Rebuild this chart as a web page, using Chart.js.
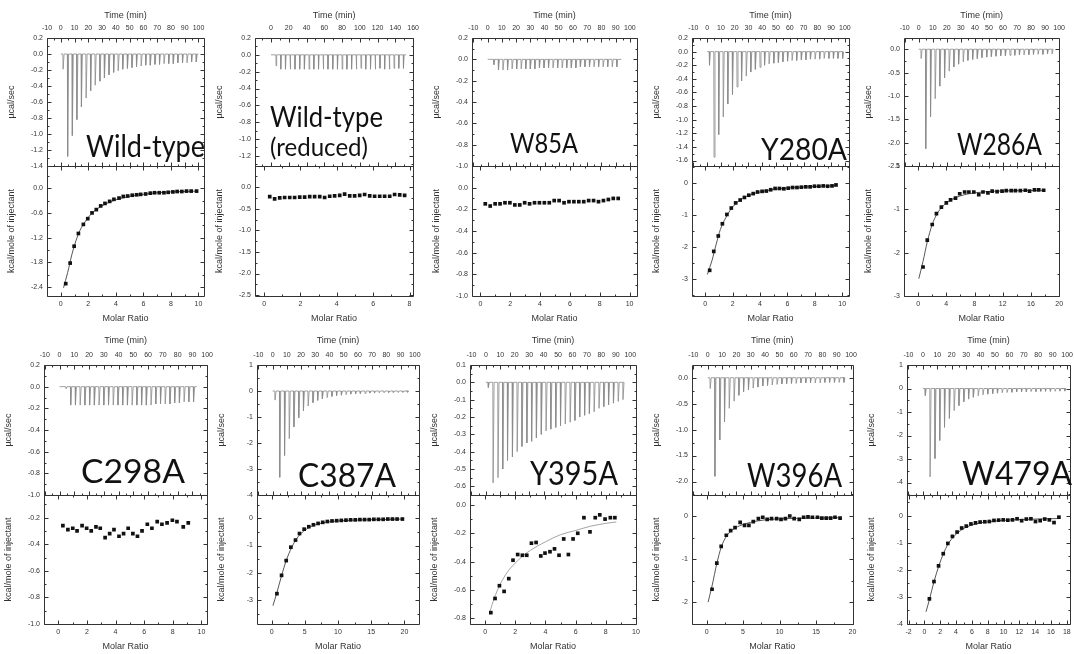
<!DOCTYPE html>
<html>
<head>
<meta charset="utf-8">
<script src="https://cdn.jsdelivr.net/npm/chart.js@4.4.1/dist/chart.umd.min.js"></script>
<style>
  body { margin: 0; background: #fff; }
  #fig { position: relative; width: 1074px; height: 654px; overflow: hidden; background: #fff; }
  #fig canvas { position: absolute; }
  .tag { position: absolute; color: #111; white-space: nowrap; transform-origin: 0 0; }
</style>
</head>
<body>
<div id="fig"></div>
<script>
// injection times (min)
const injA = [1.5, 4.8, 8.2, 11.5, 14.8, 18.2, 21.5, 24.8, 28.2, 31.5, 34.8, 38.2, 41.5, 44.8, 48.2, 51.5, 54.8, 58.2, 61.5, 64.8, 68.2, 71.5, 74.8, 78.2, 81.5, 84.8, 88.2, 91.5, 94.8, 98.2];
const injB = [4.2, 7.4, 10.6, 13.8, 17.0, 20.2, 23.4, 26.6, 29.8, 33.0, 36.2, 39.4, 42.6, 45.8, 49.0, 52.2, 55.4, 58.6, 61.8, 65.0, 68.2, 71.4, 74.6, 77.8, 81.0, 84.2, 87.4, 90.6];
const injSlow = [5.5, 10.8, 16.1, 21.4, 26.8, 32.1, 37.4, 42.7, 48.0, 53.3, 58.6, 63.9, 69.3, 74.6, 79.9, 85.2, 90.5, 95.8, 101.1, 106.4, 111.8, 117.1, 122.4, 127.7, 133.0, 138.3, 143.6, 148.9];

// raw peaks (ucal/sec)
const wtPeaks = [-0.19, -1.28, -1.02, -0.82, -0.66, -0.55, -0.46, -0.39, -0.34, -0.30, -0.26, -0.23, -0.21, -0.19, -0.18, -0.17, -0.16, -0.15, -0.14, -0.14, -0.13, -0.13, -0.12, -0.12, -0.12, -0.11, -0.11, -0.11, -0.10, -0.10];
const wtRedPeaks = [-0.13, -0.17, -0.17, -0.17, -0.17, -0.17, -0.17, -0.17, -0.17, -0.17, -0.17, -0.17, -0.17, -0.17, -0.17, -0.17, -0.17, -0.17, -0.16, -0.17, -0.17, -0.17, -0.16, -0.17, -0.17, -0.16, -0.16, -0.16];
const w85Peaks = [-0.05, -0.10, -0.10, -0.10, -0.09, -0.09, -0.09, -0.09, -0.09, -0.09, -0.08, -0.08, -0.08, -0.08, -0.08, -0.08, -0.08, -0.08, -0.08, -0.07, -0.07, -0.07, -0.07, -0.07, -0.07, -0.07, -0.07, -0.07];
const y280Peaks = [-0.20, -1.55, -1.22, -0.96, -0.77, -0.63, -0.52, -0.43, -0.36, -0.30, -0.26, -0.23, -0.20, -0.18, -0.17, -0.16, -0.15, -0.14, -0.13, -0.13, -0.12, -0.12, -0.11, -0.11, -0.11, -0.10, -0.10, -0.10, -0.10, -0.10];
const w286Peaks = [-0.20, -2.13, -1.45, -1.06, -0.79, -0.61, -0.47, -0.38, -0.32, -0.27, -0.24, -0.22, -0.20, -0.18, -0.17, -0.16, -0.15, -0.14, -0.14, -0.13, -0.13, -0.12, -0.12, -0.12, -0.11, -0.11, -0.11, -0.10, -0.10];
const c298Peaks = [-0.02, -0.17, -0.17, -0.17, -0.17, -0.17, -0.17, -0.17, -0.17, -0.17, -0.17, -0.17, -0.17, -0.17, -0.17, -0.17, -0.17, -0.17, -0.17, -0.16, -0.16, -0.16, -0.16, -0.15, -0.15, -0.14, -0.14, -0.14];
const c387Peaks = [-0.35, -3.32, -2.48, -1.83, -1.38, -1.03, -0.76, -0.58, -0.45, -0.36, -0.30, -0.25, -0.21, -0.18, -0.16, -0.14, -0.12, -0.11, -0.10, -0.09, -0.08, -0.08, -0.07, -0.07, -0.06, -0.06, -0.06, -0.05, -0.05];
const y395Peaks = [-0.03, -0.58, -0.55, -0.50, -0.45, -0.43, -0.40, -0.37, -0.35, -0.34, -0.32, -0.30, -0.28, -0.27, -0.26, -0.25, -0.24, -0.23, -0.22, -0.20, -0.19, -0.18, -0.17, -0.15, -0.14, -0.13, -0.12, -0.11, -0.10];
const w396Peaks = [-0.21, -1.90, -1.20, -0.85, -0.59, -0.45, -0.34, -0.27, -0.23, -0.20, -0.18, -0.16, -0.15, -0.14, -0.13, -0.12, -0.12, -0.11, -0.11, -0.10, -0.10, -0.10, -0.10, -0.10, -0.09, -0.09, -0.09, -0.09, -0.09];
const w479Peaks = [-0.30, -3.76, -2.98, -2.21, -1.65, -1.27, -0.94, -0.73, -0.56, -0.45, -0.37, -0.31, -0.27, -0.24, -0.22, -0.20, -0.18, -0.17, -0.16, -0.15, -0.14, -0.14, -0.13, -0.13, -0.12, -0.12, -0.12, -0.12, -0.11, -0.11];

// integrated heats (kcal/mole of injectant) vs molar ratio
const wtRatio = [0.36, 0.68, 0.97, 1.28, 1.64, 1.96, 2.27, 2.58, 2.9, 3.21, 3.55, 3.86, 4.23, 4.54, 4.86, 5.19, 5.51, 5.8, 6.16, 6.5, 6.81, 7.15, 7.49, 7.8, 8.14, 8.45, 8.79, 9.13, 9.47, 9.86];
const wtHeat = [-2.32, -1.82, -1.41, -1.1, -0.88, -0.74, -0.6, -0.52, -0.43, -0.37, -0.32, -0.27, -0.24, -0.2, -0.19, -0.17, -0.16, -0.15, -0.14, -0.12, -0.11, -0.11, -0.11, -0.1, -0.09, -0.08, -0.08, -0.07, -0.07, -0.07];
const wtFitX = [0.2, 0.5, 0.8, 1.1, 1.4, 1.8, 2.2, 2.7, 3.2, 4, 5, 6, 7, 8, 9.9];
const wtFitY = [-2.42, -2.05, -1.62, -1.28, -1.02, -0.8, -0.63, -0.49, -0.39, -0.28, -0.2, -0.15, -0.11, -0.09, -0.07];

const wtRedRatio = [0.31, 0.58, 0.86, 1.13, 1.41, 1.68, 1.96, 2.23, 2.51, 2.78, 3.06, 3.33, 3.61, 3.88, 4.16, 4.43, 4.71, 4.98, 5.26, 5.53, 5.81, 6.08, 6.36, 6.63, 6.91, 7.18, 7.46, 7.73];
const wtRedHeat = [-0.22, -0.27, -0.25, -0.24, -0.24, -0.24, -0.23, -0.23, -0.22, -0.22, -0.22, -0.24, -0.21, -0.20, -0.19, -0.16, -0.20, -0.20, -0.19, -0.17, -0.20, -0.21, -0.21, -0.21, -0.21, -0.17, -0.18, -0.19];

const w85Ratio = [0.33, 0.66, 0.99, 1.32, 1.65, 1.98, 2.31, 2.64, 2.97, 3.3, 3.63, 3.96, 4.29, 4.62, 4.95, 5.28, 5.61, 5.94, 6.27, 6.6, 6.93, 7.26, 7.59, 7.92, 8.25, 8.58, 8.91, 9.24];
const w85Heat = [-0.15, -0.17, -0.15, -0.15, -0.14, -0.14, -0.16, -0.16, -0.14, -0.15, -0.14, -0.14, -0.14, -0.14, -0.12, -0.12, -0.14, -0.13, -0.13, -0.13, -0.13, -0.12, -0.12, -0.13, -0.12, -0.11, -0.10, -0.10];

const y280Ratio = [0.32, 0.62, 0.95, 1.25, 1.58, 1.9, 2.22, 2.55, 2.86, 3.18, 3.5, 3.82, 4.15, 4.46, 4.78, 5.1, 5.42, 5.74, 6.06, 6.38, 6.7, 7.02, 7.34, 7.66, 7.98, 8.3, 8.62, 8.94, 9.26, 9.55];
const y280Heat = [-2.72, -2.13, -1.65, -1.27, -0.98, -0.78, -0.62, -0.53, -0.45, -0.38, -0.33, -0.28, -0.26, -0.25, -0.21, -0.17, -0.17, -0.18, -0.16, -0.14, -0.14, -0.13, -0.12, -0.12, -0.10, -0.10, -0.09, -0.10, -0.09, -0.06];
const y280FitX = [0.15, 0.5, 0.8, 1.1, 1.5, 1.9, 2.4, 3, 3.8, 5, 6.5, 8, 9.6];
const y280FitY = [-2.85, -2.4, -1.9, -1.45, -1.08, -0.8, -0.58, -0.42, -0.3, -0.2, -0.14, -0.11, -0.08];

const w286Ratio = [0.7, 1.3, 2.0, 2.6, 3.3, 4.0, 4.6, 5.3, 5.9, 6.6, 7.2, 7.9, 8.6, 9.2, 9.9, 10.5, 11.2, 11.9, 12.5, 13.2, 13.8, 14.5, 15.2, 15.8, 16.5, 17.1, 17.8];
const w286Heat = [-1.83, -1.21, -0.85, -0.6, -0.45, -0.35, -0.28, -0.24, -0.14, -0.1, -0.1, -0.1, -0.16, -0.1, -0.12, -0.08, -0.09, -0.08, -0.07, -0.07, -0.07, -0.07, -0.06, -0.08, -0.05, -0.05, -0.06];
const w286FitX = [0.1, 0.7, 1.3, 2, 2.7, 3.5, 4.5, 6, 8, 11, 14, 17.8];
const w286FitY = [-2.1, -1.7, -1.25, -0.85, -0.6, -0.43, -0.3, -0.19, -0.12, -0.08, -0.07, -0.06];

const c298Ratio = [0.32, 0.67, 1.01, 1.31, 1.66, 1.98, 2.3, 2.63, 2.93, 3.27, 3.59, 3.89, 4.24, 4.56, 4.88, 5.21, 5.53, 5.85, 6.22, 6.54, 6.91, 7.24, 7.6, 7.97, 8.29, 8.73, 9.08];
const c298Heat = [-0.26, -0.29, -0.28, -0.30, -0.26, -0.28, -0.30, -0.27, -0.28, -0.35, -0.32, -0.29, -0.34, -0.32, -0.28, -0.32, -0.34, -0.30, -0.25, -0.28, -0.23, -0.25, -0.24, -0.22, -0.23, -0.27, -0.24];

const c387Ratio = [0.8, 1.5, 2.2, 2.9, 3.6, 4.2, 4.9, 5.6, 6.3, 7.0, 7.7, 8.4, 9.1, 9.8, 10.5, 11.2, 11.9, 12.6, 13.3, 14.0, 14.7, 15.4, 16.1, 16.8, 17.5, 18.2, 18.9, 19.7];
const c387Heat = [-2.76, -2.09, -1.55, -1.06, -0.8, -0.56, -0.4, -0.31, -0.24, -0.19, -0.15, -0.12, -0.1, -0.09, -0.08, -0.07, -0.06, -0.06, -0.05, -0.05, -0.05, -0.04, -0.04, -0.04, -0.03, -0.03, -0.03, -0.03];
const c387FitX = [0.2, 0.8, 1.5, 2.2, 3, 3.8, 4.8, 6, 7.5, 10, 14, 19.7];
const c387FitY = [-3.2, -2.72, -2.1, -1.55, -1.08, -0.74, -0.48, -0.3, -0.18, -0.1, -0.06, -0.03];

const y395Ratio = [0.38, 0.66, 0.95, 1.26, 1.57, 1.85, 2.16, 2.47, 2.76, 3.07, 3.38, 3.69, 3.97, 4.3, 4.6, 4.9, 5.21, 5.52, 5.83, 6.14, 6.55, 6.95, 7.3, 7.6, 7.95, 8.3, 8.6];
const y395Heat = [-0.76, -0.66, -0.57, -0.61, -0.52, -0.39, -0.35, -0.355, -0.355, -0.27, -0.265, -0.36, -0.34, -0.33, -0.31, -0.355, -0.24, -0.35, -0.24, -0.2, -0.09, -0.19, -0.09, -0.07, -0.1, -0.09, -0.09];
const y395FitX = [0.3, 0.6, 1, 1.5, 2, 2.5, 3, 4, 5, 6, 7, 8, 8.7];
const y395FitY = [-0.76, -0.66, -0.56, -0.47, -0.41, -0.36, -0.32, -0.26, -0.21, -0.18, -0.15, -0.13, -0.12];

const w396Ratio = [0.75, 1.4, 2.0, 2.7, 3.3, 3.9, 4.6, 5.2, 5.8, 6.4, 7.1, 7.7, 8.3, 8.9, 9.6, 10.2, 10.8, 11.4, 12.0, 12.7, 13.3, 13.9, 14.5, 15.2, 15.8, 16.4, 17.0, 17.6, 18.3];
const w396Heat = [-1.7, -1.09, -0.7, -0.44, -0.33, -0.26, -0.14, -0.21, -0.21, -0.12, -0.05, -0.02, -0.07, -0.05, -0.05, -0.07, -0.05, 0.01, -0.05, -0.07, -0.02, -0.01, -0.02, -0.02, -0.04, -0.04, -0.04, -0.02, -0.04];
const w396FitX = [0.2, 0.75, 1.4, 2, 2.7, 3.5, 4.5, 6, 8, 11, 14, 18.3];
const w396FitY = [-2.0, -1.62, -1.1, -0.72, -0.47, -0.32, -0.22, -0.14, -0.08, -0.05, -0.04, -0.03];

const w479Ratio = [0.63, 1.21, 1.79, 2.38, 2.96, 3.54, 4.13, 4.71, 5.29, 5.88, 6.46, 7.04, 7.63, 8.21, 8.79, 9.38, 9.96, 10.54, 11.13, 11.71, 12.29, 12.88, 13.46, 14.04, 14.63, 15.21, 15.79, 16.38, 17.0];
const w479Heat = [-3.07, -2.43, -1.85, -1.4, -1.02, -0.76, -0.6, -0.45, -0.38, -0.3, -0.26, -0.23, -0.22, -0.21, -0.17, -0.16, -0.15, -0.16, -0.15, -0.11, -0.18, -0.12, -0.11, -0.21, -0.18, -0.12, -0.15, -0.25, -0.05];
const w479FitX = [0.2, 0.63, 1.2, 1.8, 2.4, 3, 3.8, 4.8, 6, 8, 11, 14, 17];
const w479FitY = [-3.55, -3.1, -2.45, -1.87, -1.4, -1.04, -0.74, -0.5, -0.34, -0.22, -0.15, -0.12, -0.1];

// big sample labels: text, left, right, baseline, font size
const tags = [
  ['Wild-type', 86, 205, 157, 30],
  ['Wild-type', 270, 383, 127, 29],
  ['(reduced)', 270, 368, 156, 25],
  ['W85A', 510, 578, 153, 26],
  ['Y280A', 761, 847, 160, 31],
  ['W286A', 957, 1042, 155, 31],
  ['C298A', 81, 185, 483, 32],
  ['C387A', 298, 396, 487, 32],
  ['Y395A', 530, 618, 485, 32],
  ['W396A', 747, 842, 487, 32],
  ['W479A', 962, 1072, 485, 32]
];

// panel layout: box = [left, top, right, middle, bottom] in page px
const panels = [
  {box: [47, 38, 204, 166, 296], time: [-10, 104, 10], topY: [-1.4, 0.2, 0.2, 1], ratio: [-1, 10.4, 2], botY: [-2.62, 0.54, 0.6, 1],
   inj: injA, peaks: wtPeaks, runEnd: 100, mr: wtRatio, heat: wtHeat, fitX: wtFitX, fitY: wtFitY},
  {box: [255, 38, 415, 166, 296], time: [-18, 160, 20], topY: [-1.32, 0.2, 0.2, 1], ratio: [-0.5, 8.2, 2], botY: [-2.52, 0.49, 0.5, 1],
   inj: injSlow, peaks: wtRedPeaks, runEnd: 152, mr: wtRedRatio, heat: wtRedHeat},
  {box: [472, 38, 637, 166, 296], time: [-11, 105, 10], topY: [-1.0, 0.2, 0.2, 1], ratio: [-0.56, 10.5, 2], botY: [-1.0, 0.199, 0.2, 1],
   inj: injB, peaks: w85Peaks, runEnd: 94, mr: w85Ratio, heat: w85Heat},
  {box: [692, 38, 849, 166, 296], time: [-11, 103, 10], topY: [-1.68, 0.2, 0.2, 1], ratio: [-0.97, 10.5, 2], botY: [-3.52, 0.53, 1, 0],
   inj: injA, peaks: y280Peaks, runEnd: 99, mr: y280Ratio, heat: y280Heat, fitX: y280FitX, fitY: y280FitY},
  {box: [904, 38, 1061, 166, 296], time: [-10.5, 100, 10], topY: [-2.5, 0.24, 0.5, 1], ratio: [-2, 20, 4], botY: [-2.5, 0.5, 1, 0],
   inj: injA, peaks: w286Peaks, runEnd: 95, mr: w286Ratio, heat: w286Heat, fitX: w286FitX, fitY: w286FitY},
  {box: [44, 365, 209, 495, 624], time: [-10.5, 100, 10], topY: [-1.0, 0.2, 0.2, 1], ratio: [-1, 10.4, 2], botY: [-1.0, -0.03, 0.2, 1],
   inj: injB, peaks: c298Peaks, runEnd: 93, mr: c298Ratio, heat: c298Heat},
  {box: [257, 365, 419, 495, 624], time: [-11, 103, 10], topY: [-4, 1, 1, 0], ratio: [-2.2, 22.2, 5], botY: [-3.87, 0.85, 1, 0],
   inj: injA, peaks: c387Peaks, runEnd: 94, mr: c387Ratio, heat: c387Heat, fitX: c387FitX, fitY: c387FitY},
  {box: [470, 365, 636, 495, 624], time: [-11, 104, 10], topY: [-0.65, 0.1, 0.1, 1], ratio: [-1, 10, 2], botY: [-0.84, 0.07, 0.2, 1],
   inj: injA, peaks: y395Peaks, runEnd: 95, mr: y395Ratio, heat: y395Heat, fitX: y395FitX, fitY: y395FitY, fitColor: '#9a9a9a'},
  {box: [692, 365, 853, 495, 624], time: [-11, 101, 10], topY: [-2.26, 0.245, 0.5, 1], ratio: [-2, 20, 5], botY: [-2.51, 0.5, 1, 0],
   inj: injA, peaks: w396Peaks, runEnd: 94, mr: w396Ratio, heat: w396Heat, fitX: w396FitX, fitY: w396FitY},
  {box: [907, 365, 1070, 495, 624], time: [-11, 102, 10], topY: [-4.53, 1, 1, 0], ratio: [-2.2, 18.4, 2], botY: [-4, 0.77, 1, 0],
   inj: injA, peaks: w479Peaks, runEnd: 96, mr: w479Ratio, heat: w479Heat, fitX: w479FitX, fitY: w479FitY}
];

const FAMILY = '"Liberation Sans", Arial, sans-serif';
const tickFont = {family: FAMILY, size: 7};
const titleFont = {family: FAMILY, size: 9};
const Y_W = 46, TOP_H = 38, BOT_H = 30, PAD_R = 10;

// thermogram trace: baseline with one spike per injection
function spikeTrace(times, peaks, end) {
  const pts = [{x: 0, y: 0}];
  peaks.forEach((p, i) => {
    const t = times[i];
    pts.push({x: t, y: 0}, {x: t + 0.2, y: p}, {x: t + 0.9, y: 0});
  });
  pts.push({x: end, y: 0});
  return pts;
}

function zip(xs, ys) {
  return xs.map((x, i) => ({x, y: ys[i]}));
}

function fmt(v, dec) {
  const n = Math.abs(v) < 1e-9 ? 0 : Number(v);
  return n.toFixed(dec);
}

function makeScale(position, lim, step, dec, title, titlePad, tickPad, size, extra) {
  const horiz = position === 'top' || position === 'bottom';
  return Object.assign({
    type: 'linear', position, min: lim[0], max: lim[1],
    grid: {display: false, drawTicks: false},
    border: {display: false},
    ticks: {stepSize: step, includeBounds: false, autoSkip: false, autoSkipPadding: horiz ? -6 : 0,
            maxRotation: 0, maxTicksLimit: 60,
            font: tickFont, color: '#333', padding: tickPad,
            callback: v => fmt(v, dec)},
    title: {display: true, text: title, font: titleFont, color: '#333', padding: titlePad},
    afterFit: s => { if (s.isHorizontal()) s.height = size; else s.width = size; }
  }, extra || {});
}

// Origin-style frame with inward ticks on every side
const framePlugin = {
  id: 'frame',
  afterDraw(chart) {
    const {ctx, chartArea: a, scales: s} = chart;
    const px = v => Math.round(v) + 0.5;
    ctx.save();
    ctx.strokeStyle = '#333';
    ctx.lineWidth = 1;
    ctx.beginPath();
    ctx.rect(px(a.left), px(a.top), Math.round(a.right) - Math.round(a.left), Math.round(a.bottom) - Math.round(a.top));
    const mid = px(s.yTop.bottom);
    ctx.moveTo(px(a.left), mid);
    ctx.lineTo(px(a.right), mid);

    const marks = scale => {
      const vals = scale.ticks.map(t => t.value);
      const out = vals.map(v => [v, 4]);
      const half = (vals[1] - vals[0]) / 2;
      vals.forEach(v => {
        [v - half, v + half].forEach(m => {
          if (m >= scale.min && m <= scale.max && !out.some(o => Math.abs(o[0] - m) < 1e-9)) out.push([m, 2]);
        });
      });
      return out;
    };
    const xMarks = (scale, edges) => {
      marks(scale).forEach(([v, len]) => {
        const x = px(scale.getPixelForValue(v));
        edges.forEach(([y, dir]) => { ctx.moveTo(x, y); ctx.lineTo(x, y + dir * len); });
      });
    };
    const yMarks = scale => {
      marks(scale).forEach(([v, len]) => {
        const y = px(scale.getPixelForValue(v));
        ctx.moveTo(px(a.left), y); ctx.lineTo(px(a.left) + len, y);
        ctx.moveTo(px(a.right), y); ctx.lineTo(px(a.right) - len, y);
      });
    };
    xMarks(s.time, [[px(a.top), 1], [mid, -1]]);
    xMarks(s.molar, [[px(a.bottom), -1], [mid, 1]]);
    yMarks(s.yTop);
    yMarks(s.yBot);
    ctx.stroke();
    ctx.restore();
  }
};

const fig = document.getElementById('fig');

panels.forEach(p => {
  const [l, t, r, m, b] = p.box;
  const cv = document.createElement('canvas');
  const w = (r - l) + Y_W + PAD_R;
  const h = (b - t) + TOP_H + BOT_H;
  cv.width = w; cv.height = h;
  cv.style.left = (l - Y_W) + 'px';
  cv.style.top = (t - TOP_H) + 'px';
  cv.style.width = w + 'px';
  cv.style.height = h + 'px';
  fig.appendChild(cv);

  const datasets = [
    {data: zip(p.mr, p.heat), xAxisID: 'molar', yAxisID: 'yBot',
     pointStyle: 'rect', pointRadius: 2.6, backgroundColor: '#111', borderWidth: 0}
  ];
  if (p.fitX) {
    datasets.push({data: zip(p.fitX, p.fitY), xAxisID: 'molar', yAxisID: 'yBot', showLine: true,
      pointRadius: 0, borderColor: p.fitColor || '#444', borderWidth: 0.9, cubicInterpolationMode: 'monotone'});
  }
  datasets.push({data: spikeTrace(p.inj, p.peaks, p.runEnd), xAxisID: 'time', yAxisID: 'yTop', showLine: true,
    pointRadius: 0, borderColor: '#8a8a8a', borderWidth: 0.8, tension: 0});

  const timePad = t < 100 ? {top: 10, bottom: 0} : {top: 8, bottom: 0};

  new Chart(cv, {
    type: 'scatter',
    data: {datasets},
    options: {
      responsive: false, animation: false, devicePixelRatio: 1, events: [],
      layout: {padding: {left: 0, right: PAD_R, top: 0, bottom: 0}},
      plugins: {legend: {display: false}, tooltip: {enabled: false}},
      scales: {
        time: makeScale('top', p.time, p.time[2], 0, 'Time (min)', timePad, 6, TOP_H),
        molar: makeScale('bottom', p.ratio, p.ratio[2], 0, 'Molar Ratio', {top: 0, bottom: 2}, 4, BOT_H),
        yBot: makeScale('left', p.botY, p.botY[2], p.botY[3], 'kcal/mole of injectant', {top: 5, bottom: 0}, 4, Y_W,
                        {stack: 'col', stackWeight: b - m}),
        yTop: makeScale('left', p.topY, p.topY[2], p.topY[3], 'µcal/sec', {top: 5, bottom: 0}, 4, Y_W,
                        {stack: 'col', stackWeight: m - t})
      }
    },
    plugins: [framePlugin]
  });
});

// sample name labels, stretched to the width they take in the figure
const meas = document.createElement('canvas').getContext('2d');
tags.forEach(([text, x0, x1, base, fs]) => {
  const font = fs + 'px Lato, "Open Sans", sans-serif';
  meas.font = font;
  const mt = meas.measureText(text);
  const A = mt.fontBoundingBoxAscent, D = mt.fontBoundingBoxDescent;
  const el = document.createElement('div');
  el.className = 'tag';
  el.textContent = text;
  el.style.font = font;
  el.style.lineHeight = fs + 'px';
  el.style.left = x0 + 'px';
  el.style.top = (base - ((fs - (A + D)) / 2 + A)) + 'px';
  el.style.transform = 'scaleX(' + ((x1 - x0) / mt.width).toFixed(3) + ')';
  fig.appendChild(el);
});
</script>
</body>
</html>
